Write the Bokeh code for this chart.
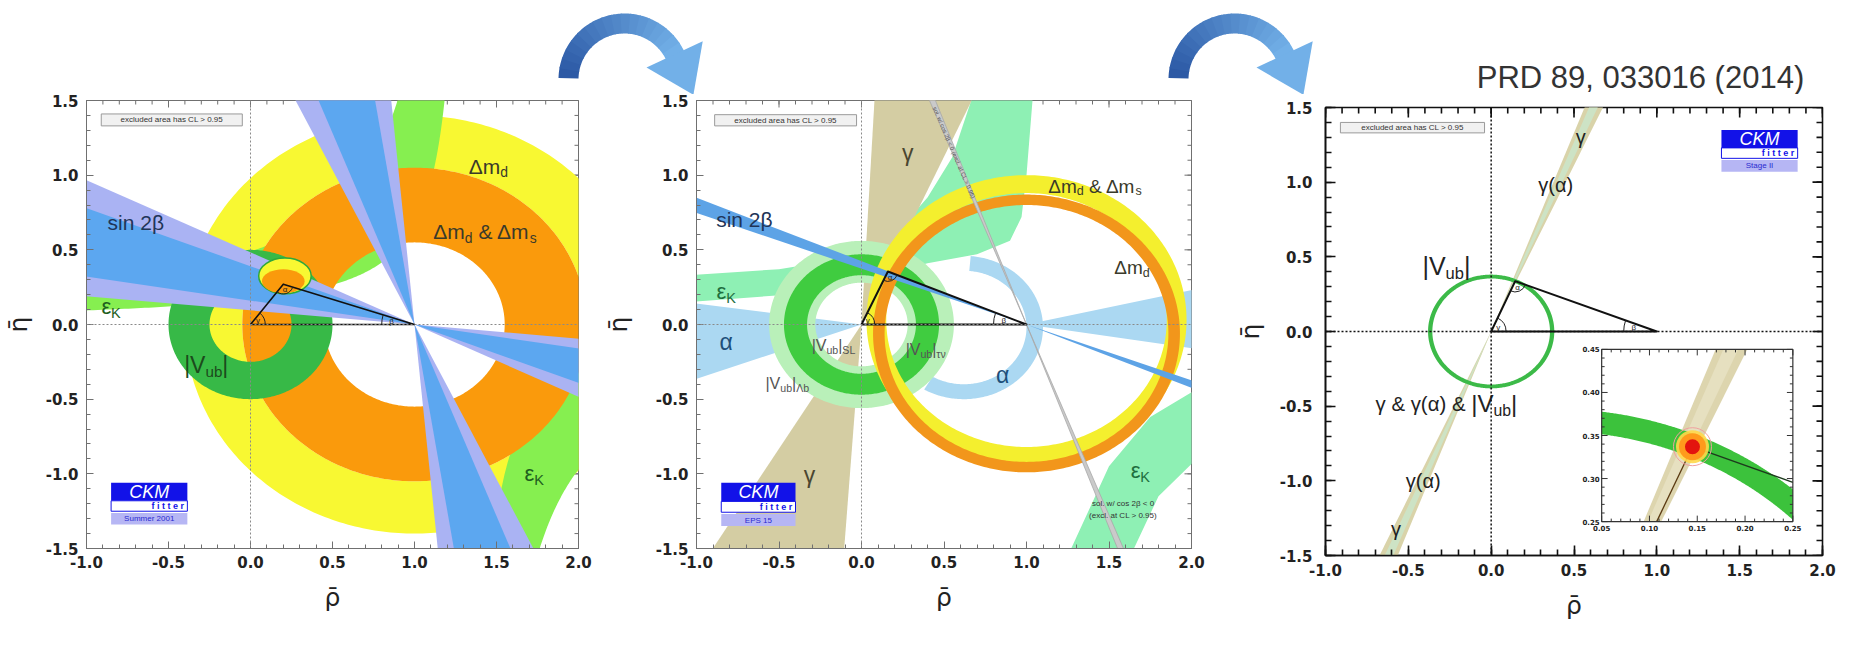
import numpy as np
from bokeh.plotting import figure
from bokeh.layouts import column, row
from bokeh.models import Range1d, FixedTicker, Span, PrintfTickFormatter
from bokeh.core.properties import value
from bokeh.embed import file_html
from bokeh.resources import INLINE

# ------------------------------------------------------------------ data
X_TICKS = [-1.0, -0.5, 0.0, 0.5, 1.0, 1.5, 2.0]
Y_TICKS = [-1.5, -1.0, -0.5, 0.0, 0.5, 1.0, 1.5]
X_MINOR = [round(v, 2) for v in np.arange(-1.0, 2.001, 0.1)]
Y_MINOR = [round(v, 2) for v in np.arange(-1.5, 1.501, 0.1)]
X_LABEL = "\u03c1\u0304"   # rho-bar
Y_LABEL = "\u03b7\u0304"   # eta-bar
TITLE = "PRD 89, 033016 (2014)"

# panel 1 : CKMfitter Summer 2001   (centre x, centre y, r_in, r_out)
P1_APEX = [0.20, 0.27]
P1_DMD = [1.0, 0.0, 1.05, 1.40]
P1_DMDS = [1.0, 0.0, 0.55, 1.05]
P1_VUB = [0.0, 0.0, 0.25, 0.50]
P1_EPSK = [1.33, 0.22, 0.65]          # hyperbola: asymptote, k_low, k_high
P1_BETA_95 = [5.4, 25.8]              # beta range, degrees
P1_BETA_68 = [9.1, 21.3]
P1_FIT_95 = [0.21, 0.325, 0.16, 0.12]  # ellipse cx, cy, rx, ry
P1_FIT_68 = [0.20, 0.29, 0.13, 0.08]

# panel 2 : CKMfitter EPS 15
P2_APEX = [0.16, 0.355]
P2_DMD = [1.0, 0.03, 0.85, 0.97]
P2_DMDS = [1.0, -0.06, 0.86, 0.93]
P2_VUB_ALL = [0.0, 0.0, 0.28, 0.56]
P2_VUB = [0.0, 0.0, 0.33, 0.47]
# eps_K band edges (rho, eta)
P2_EPSK_UP_OUT_RHO = [-1.05, -0.5, 0.0, 0.2, 0.4, 0.55, 0.68]
P2_EPSK_UP_OUT_ETA = [0.33, 0.37, 0.46, 0.60, 0.85, 1.12, 1.55]
P2_EPSK_UP_IN_RHO = [-1.05, -0.45, 0.0, 0.4, 0.7, 0.9, 0.97, 1.0, 1.04]
P2_EPSK_UP_IN_ETA = [0.15, 0.20, 0.29, 0.41, 0.47, 0.56, 0.72, 1.0, 1.55]
P2_EPSK_DN_IN_RHO = [1.25, 1.5, 1.75, 2.05]
P2_EPSK_DN_IN_ETA = [-1.55, -0.95, -0.62, -0.42]
P2_EPSK_DN_OUT_RHO = [1.63, 1.8, 2.05]
P2_EPSK_DN_OUT_ETA = [-1.55, -1.15, -0.88]
P2_BETA = [20.5, 23.0]
P2_BETA_ALT = [68.6, 69.8]
P2_GAMMA_UP = [66.0, 87.0]
P2_GAMMA_DN = [59.0, 86.0]
P2_ALPHA_ARC = [0.62, -0.02, 0.38, 0.48, -120.0, 85.0]
P2_ALPHA_LEFT = [-8.0, 20.0]
P2_ALPHA_RIGHT = [-9.0, 13.0]

# panel 3 : Stage II
P3_APEX = [0.145, 0.337]
P3_VUB = [0.0, 0.0, 0.355, 0.381]
P3_GAMMA = [65.8, 69.4]
P3_GAMMA_ALPHA = [66.8, 68.5]
INSET_X = [0.05, 0.25]
INSET_Y = [0.25, 0.45]
INSET_X_TICKS = [0.05, 0.10, 0.15, 0.20, 0.25]
INSET_Y_TICKS = [0.25, 0.30, 0.35, 0.40, 0.45]

# ------------------------------------------------------------------ helpers
FONT = "Liberation Sans"
CW = {'m': .833, 'i': .222, 'l': .222, '|': .26, ' ': .278, 'r': .333, 't': .278, 'f': .278,
      '&': .667, '\u0394': .668, 'V': .667, '\u03b5': .44, '\u03b3': .5, '\u03b1': .58, '\u03b2': .57,
      'K': .667, '(': .333, ')': .333, 'S': .667, 'L': .556, '\u03c4': .42, '\u03bd': .5, 's': .5,
      '\u039b': .667, '.': .278, '<': .584, '>': .584, '/': .278, 'w': .722, 'C': .722}


def tw(s, size):
    return sum(CW.get(c, 0.556) for c in s) * size


def rich(p, x, y, runs, size, color, style="normal"):
    parts = []
    for r in runs:
        t, k = r[0], r[1]
        sc = r[2] if len(r) > 2 else 1.0
        s = size * sc * (0.66 if k == "sub" else 1.0)
        parts.append((t, k, s, tw(t, s), size * sc))
    total = sum(q[3] for q in parts)
    cur = -total / 2.0
    for t, k, s, w, base in parts:
        dy = 0.27 * base if k == "sub" else 0.0
        lead = len(t) - len(t.lstrip(" "))
        shown = t.strip(" ")
        p.text(x=[x], y=[y], text=[shown], x_offset=cur + lead * 0.278 * s, y_offset=dy,
               text_font=value(FONT), text_font_size=f"{s:.1f}px", text_color=color,
               text_align="left", text_baseline="middle", text_font_style=style)
        cur += w


def ring_xy(c, n=361):
    cx, cy, r1, r2 = c
    t = np.linspace(0, 2 * np.pi, n)
    return (list(cx + r2 * np.cos(t)), list(cy + r2 * np.sin(t)),
            list(cx + r1 * np.cos(t[::-1])), list(cy + r1 * np.sin(t[::-1])))


def draw_ring(p, c, color, alpha=1.0):
    ox, oy, ix, iy = ring_xy(c)
    p.multi_polygons(xs=[[[ox, ix]]], ys=[[[oy, iy]]], fill_color=color, fill_alpha=alpha,
                     line_color=None)


def cone(px, py, a1, a2, L=8.0):
    a1, a2 = np.radians(a1), np.radians(a2)
    return ([px, px + L * np.cos(a1), px + L * np.cos(a2)],
            [py, py + L * np.sin(a1), py + L * np.sin(a2)])


def hyper_band(x0, k1, k2):
    out = []
    e2 = np.geomspace(k2 / (x0 + 1.6), 3.0, 300)
    e1 = np.geomspace(k1 / (x0 + 1.6), 3.0, 300)[::-1]
    out.append((list(x0 - k2 / e2) + list(x0 - k1 / e1), list(e2) + list(e1)))
    a2 = np.geomspace(k2 / (2.6 - x0), 3.0, 300)
    a1 = np.geomspace(k1 / (2.6 - x0), 3.0, 300)[::-1]
    out.append((list(x0 + k2 / a2) + list(x0 + k1 / a1), list(-a2) + list(-a1)))
    return out


def edge_band(rx_a, ry_a, rx_b, ry_b):
    return list(rx_a) + list(rx_b[::-1]), list(ry_a) + list(ry_b[::-1])


def arc_band(c, n=200):
    cx, cy, r1, r2, a1, a2 = c
    t = np.radians(np.linspace(a1, a2, n))
    return (list(cx + r2 * np.cos(t)) + list(cx + r1 * np.cos(t[::-1])),
            list(cy + r2 * np.sin(t)) + list(cy + r1 * np.sin(t[::-1])))


def clip_poly(xs, ys, xmin, xmax, ymin, ymax):
    pts = list(zip(xs, ys))

    def clip(pts, inside, inter):
        out = []
        if not pts:
            return out
        prev = pts[-1]
        for cur in pts:
            if inside(cur):
                if not inside(prev):
                    out.append(inter(prev, cur))
                out.append(cur)
            elif inside(prev):
                out.append(inter(prev, cur))
            prev = cur
        return out

    def ix(x0):
        return lambda a, b: (x0, a[1] + (b[1] - a[1]) * (x0 - a[0]) / (b[0] - a[0]))

    def iy(y0):
        return lambda a, b: (a[0] + (b[0] - a[0]) * (y0 - a[1]) / (b[1] - a[1]), y0)

    pts = clip(pts, lambda q: q[0] >= xmin, ix(xmin))
    pts = clip(pts, lambda q: q[0] <= xmax, ix(xmax))
    pts = clip(pts, lambda q: q[1] >= ymin, iy(ymin))
    pts = clip(pts, lambda q: q[1] <= ymax, iy(ymax))
    return [q[0] for q in pts], [q[1] for q in pts]


def clip_seg(x0, y0, x1, y1, xmin, xmax, ymin, ymax):
    t0, t1 = 0.0, 1.0
    dx, dy = x1 - x0, y1 - y0
    for pp, qq in ((-dx, x0 - xmin), (dx, xmax - x0), (-dy, y0 - ymin), (dy, ymax - y0)):
        if pp == 0:
            if qq < 0:
                return None
        else:
            r = qq / pp
            if pp < 0:
                t0 = max(t0, r)
            else:
                t1 = min(t1, r)
    if t0 > t1:
        return None
    return x0 + t0 * dx, y0 + t0 * dy, x0 + t1 * dx, y0 + t1 * dy


def no_align(p):
    try:
        p.frame_align = False
    except Exception:
        pass


PANEL_H = 554


def make_panel(width, mbl, mbr, mbt, mbb):
    p = figure(width=width, height=PANEL_H, x_range=Range1d(-1.0, 2.0), y_range=Range1d(-1.5, 1.5),
               toolbar_location=None, output_backend="svg", min_border_left=mbl,
               min_border_right=mbr, min_border_top=mbt, min_border_bottom=mbb,
               background_fill_color="white", border_fill_color="white")
    p.grid.visible = False
    no_align(p)
    return p


def style_panel(p, color, lw, maj, mnr, x_std, y_std, xl_std, yl_std):
    xt = FixedTicker(ticks=X_TICKS, minor_ticks=X_MINOR)
    yt = FixedTicker(ticks=Y_TICKS, minor_ticks=Y_MINOR)
    common = dict(axis_line_color=color, axis_line_width=lw, major_tick_line_color=color,
                  major_tick_line_width=lw, minor_tick_line_color=color, minor_tick_line_width=lw,
                  major_tick_in=maj, major_tick_out=0, minor_tick_in=mnr, minor_tick_out=0)
    lab = dict(major_label_text_font="DejaVu Sans", major_label_text_font_style="bold",
               major_label_text_font_size="15px", major_label_text_color="#222222",
               axis_label_text_font="DejaVu Sans", axis_label_text_font_size="25px",
               axis_label_text_font_style="normal", axis_label_text_color="#222222")
    xa, ya = p.xaxis[0], p.yaxis[0]
    xa.update(ticker=xt, formatter=PrintfTickFormatter(format="%.1f"), major_label_standoff=x_std,
              axis_label=X_LABEL, axis_label_standoff=xl_std, **common, **lab)
    ya.update(ticker=yt, formatter=PrintfTickFormatter(format="%.1f"), major_label_standoff=y_std,
              axis_label=Y_LABEL, axis_label_standoff=yl_std, **common, **lab)
    p.outline_line_color = color
    p.outline_line_width = lw
    # mirrored ticks on the top and right edges (inner half of a centred dash)
    for ticks, L in ((X_TICKS, maj), (X_MINOR, mnr)):
        p.scatter(x=ticks, y=[1.5] * len(ticks), marker="dash", size=2 * L, angle=np.pi / 2,
                  line_color=color, line_width=lw)
    for ticks, L in ((Y_TICKS, maj), (Y_MINOR, mnr)):
        p.scatter(x=[2.0] * len(ticks), y=ticks, marker="dash", size=2 * L, angle=0,
                  line_color=color, line_width=lw)


def cross_lines(p, color, dash, lw):
    p.add_layout(Span(location=0, dimension="height", line_color=color, line_dash=dash, line_width=lw))
    p.add_layout(Span(location=0, dimension="width", line_color=color, line_dash=dash, line_width=lw))


def triangle(p, apex, lw, ppux, ppuy, rg, rb, ra, fs):
    ax, ay = apex
    p.line(x=[0, ax, 1, 0], y=[0, ay, 0, 0], line_color="#111111", line_width=lw, line_join="round")

    def sang(dx, dy):
        return float(np.arctan2(dy * ppuy, dx * ppux))

    g1 = sang(ax, ay)
    p.arc(x=[0], y=[0], radius=rg, start_angle=0, end_angle=g1, line_color="#222222", line_width=1)
    b0 = sang(ax - 1, ay)
    p.arc(x=[1], y=[0], radius=rb, start_angle=b0, end_angle=np.pi, line_color="#222222", line_width=1)
    a0 = sang(-ax, -ay) % (2 * np.pi)
    a1 = sang(1 - ax, -ay) % (2 * np.pi)
    p.arc(x=[ax], y=[ay], radius=ra, start_angle=a0, end_angle=a1, line_color="#222222", line_width=1)
    for (px, py, r, ang, t) in ((0, 0, rg * 0.55, g1 / 2, "\u03b3"),
                                (1, 0, rb * 0.7, (b0 + np.pi) / 2, "\u03b2"),
                                (ax, ay, ra * 0.6, (a0 + a1) / 2, "\u03b1")):
        p.text(x=[px], y=[py], text=[t], x_offset=r * ppux * np.cos(ang),
               y_offset=-r * ppux * np.sin(ang), text_font=value(FONT), text_font_size=f"{fs}px",
               text_color="#222222", text_align="center", text_baseline="middle")


def excl_box(p, x0, x1, y0, y1):
    p.quad(left=[x0], right=[x1], bottom=[y0], top=[y1], fill_color="#f1f1f1",
           line_color="#9a9a9a", line_width=1)
    p.text(x=[(x0 + x1) / 2], y=[(y0 + y1) / 2], text=["excluded area has CL > 0.95"],
           text_font=value(FONT), text_font_size="8px", text_color="#333333",
           text_align="center", text_baseline="middle")


def logo(p, x0, x1, y0, y1, caption):
    h = y1 - y0
    p.quad(left=[x0], right=[x1], bottom=[y1 - 0.43 * h], top=[y1], fill_color="#1212e8", line_color=None)
    p.text(x=[(x0 + x1) / 2], y=[y1 - 0.215 * h], text=["CKM"], text_font=value(FONT),
           text_font_style="italic", text_font_size="18px", text_color="white",
           text_align="center", text_baseline="middle")
    p.quad(left=[x0], right=[x1], bottom=[y1 - 0.68 * h], top=[y1 - 0.43 * h], fill_color="white",
           line_color="#1212e8", line_width=1)
    p.text(x=[x1 - 0.02], y=[y1 - 0.555 * h], text=["f i t t e r"], text_font=value(FONT),
           text_font_style="bold", text_font_size="9px", text_color="#1212e8",
           text_align="right", text_baseline="middle")
    p.quad(left=[x0], right=[x1], bottom=[y0], top=[y1 - 0.72 * h], fill_color="#b6b6f4", line_color=None)
    p.text(x=[(x0 + x1) / 2], y=[y0 + 0.14 * h], text=[caption], text_font=value(FONT),
           text_font_size="8px", text_color="#2a2ad0", text_align="center", text_baseline="middle")


# ------------------------------------------------------------------ top strip (arrows + title)
STRIP_H = 648 - PANEL_H
strip = figure(width=1840, height=STRIP_H, x_range=Range1d(8, 1848), y_range=Range1d(8 + STRIP_H, 8),
               toolbar_location=None, output_backend="svg", min_border=0,
               x_axis_location=None, y_axis_location=None, outline_line_color=None,
               background_fill_color="white", border_fill_color="white")
strip.grid.visible = False
no_align(strip)


def mix(c0, c1, f):
    a = [int(c0[i:i + 2], 16) for i in (1, 3, 5)]
    b = [int(c1[i:i + 2], 16) for i in (1, 3, 5)]
    return "#%02x%02x%02x" % tuple(int(round(a[k] + (b[k] - a[k]) * f)) for k in range(3))


def arrow(p, cx, cy, R, r, a_s, a_e, hl, hh, c0, c1, nseg=18):
    ts = np.linspace(a_s, a_e, nseg + 1)
    xs, ys, cols = [], [], []
    for i in range(nseg):
        t = np.radians(np.linspace(ts[i] + 0.6, ts[i + 1] - 0.6, 8))
        xs.append(list(cx + R * np.cos(t)) + list(cx + r * np.cos(t[::-1])))
        ys.append(list(cy - R * np.sin(t)) + list(cy - r * np.sin(t[::-1])))
        cols.append(mix(c0, c1, i / (nseg - 1)))
    te = np.radians(a_e)
    rm = (R + r) / 2
    mx, my = cx + rm * np.cos(te), cy - rm * np.sin(te)
    tx, ty = np.sin(te), np.cos(te)
    nx, ny = np.cos(te), -np.sin(te)
    xs.append([mx + hh * nx - 1.5 * tx, mx + hl * tx, mx - hh * nx - 1.5 * tx])
    ys.append([my + hh * ny - 1.5 * ty, my + hl * ty, my - hh * ny - 1.5 * ty])
    cols.append(c1)
    p.patches(xs, ys, fill_color=cols, line_color=None)


for cx in (632, 1242):
    arrow(strip, cx, 87, 66, 46, 178, 25, 43, 31, "#2c59a5", "#72b0e8")
strip.text(x=[1648], y=[85], text=[TITLE], text_font=value(FONT), text_font_size="31px",
           text_color="#333333", text_align="center", text_baseline="middle")

# ------------------------------------------------------------------ panel 1
p1 = make_panel(600, 82, 22, 6, 100)
style_panel(p1, "#707070", 1, 7, 4, 7, 8, 12, 10)
draw_ring(p1, P1_DMD, "#f8f832")
for xs, ys in hyper_band(*P1_EPSK):
    p1.patch(xs, ys, fill_color="#86ef50", line_color=None)
draw_ring(p1, P1_DMDS, "#fa9a0c")
draw_ring(p1, P1_VUB, "#37b947")
for rng, col in ((P1_BETA_95, "#aab3f3"), (P1_BETA_68, "#5ca7f0")):
    b1, b2 = rng
    polys = [cone(1, 0, 180 - b2, 180 - b1), cone(1, 0, 360 - b2, 360 - b1),
             cone(1, 0, 90 + b1, 90 + b2), cone(1, 0, 270 + b1, 270 + b2)]
    p1.patches([q[0] for q in polys], [q[1] for q in polys], fill_color=col, line_color=None)
p1.ellipse(x=[P1_FIT_95[0]], y=[P1_FIT_95[1]], width=[2 * P1_FIT_95[2]], height=[2 * P1_FIT_95[3]],
           fill_color="#f8f832", line_color="#2ea83c", line_width=1.5)
p1.ellipse(x=[P1_FIT_68[0]], y=[P1_FIT_68[1]], width=[2 * P1_FIT_68[2]], height=[2 * P1_FIT_68[3]],
           fill_color="#fa9a0c", line_color=None)
cross_lines(p1, "#8a8a8a", "2 2", 1)
triangle(p1, P1_APEX, 1.6, 496 / 3, 448 / 3, 0.09, 0.2, 0.06, 8)
rich(p1, -0.70, 0.685, [("sin 2\u03b2", "n")], 21, "#1f3558")
rich(p1, -0.85, 0.12, [("\u03b5", "n"), ("K", "sub")], 22, "#1e5e1e")
rich(p1, -0.27, -0.27, [("|V", "n"), ("ub", "sub"), ("|", "n")], 23, "#1c4a1c")
rich(p1, 1.45, 1.06, [("\u0394m", "n"), ("d", "sub")], 21, "#3a3a2a")
rich(p1, 1.43, 0.62, [("\u0394m", "n"), ("d", "sub"), (" & \u0394m", "n"), ("s", "sub")], 21, "#3a3a2a")
rich(p1, 1.73, -1.0, [("\u03b5", "n"), ("K", "sub")], 22, "#1e5e1e")
excl_box(p1, -0.91, -0.05, 1.33, 1.41)
logo(p1, -0.85, -0.385, -1.34, -1.06, "Summer 2001")

# ------------------------------------------------------------------ panel 2
p2 = make_panel(632, 94, 41, 6, 100)
style_panel(p2, "#707070", 1, 7, 4, 7, 8, 12, 20)
e_up = edge_band(P2_EPSK_UP_OUT_RHO, P2_EPSK_UP_OUT_ETA, P2_EPSK_UP_IN_RHO, P2_EPSK_UP_IN_ETA)
e_dn = edge_band(P2_EPSK_DN_IN_RHO, P2_EPSK_DN_IN_ETA, P2_EPSK_DN_OUT_RHO, P2_EPSK_DN_OUT_ETA)
p2.patches([e_up[0], e_dn[0]], [e_up[1], e_dn[1]], fill_color="#8ef0b4", line_color=None)
g_up = cone(0, 0, *P2_GAMMA_UP)
g_dn = cone(0, 0, 180 + P2_GAMMA_DN[0], 180 + P2_GAMMA_DN[1])
p2.patches([g_up[0], g_dn[0]], [g_up[1], g_dn[1]], fill_color="#d4cda3", line_color=None)
a_arc = arc_band(P2_ALPHA_ARC)
a_l = cone(0, 0, 180 + P2_ALPHA_LEFT[0], 180 + P2_ALPHA_LEFT[1])
a_r = cone(1, 0, *P2_ALPHA_RIGHT)
p2.patches([a_arc[0], a_l[0], a_r[0]], [a_arc[1], a_l[1], a_r[1]], fill_color="#abd8f2", line_color=None)
draw_ring(p2, P2_VUB_ALL, "#b9f0b9")
draw_ring(p2, P2_VUB, "#40cc40")
draw_ring(p2, P2_DMD, "#f4ef2e")
draw_ring(p2, P2_DMDS, "#f2961b")
b_a = cone(1, 0, 180 - P2_BETA[1], 180 - P2_BETA[0])
b_b = cone(1, 0, 360 - P2_BETA[1], 360 - P2_BETA[0])
p2.patches([b_a[0], b_b[0]], [b_a[1], b_b[1]], fill_color="#5da3e6", line_color=None)
c_a = cone(1, 0, 180 - P2_BETA_ALT[1], 180 - P2_BETA_ALT[0])
c_b = cone(1, 0, 360 - P2_BETA_ALT[1], 360 - P2_BETA_ALT[0])
p2.patches([c_a[0], c_b[0]], [c_a[1], c_b[1]], fill_color="#cacaca", line_color="#a8a8a8",
           line_width=0.8)
cross_lines(p2, "#8a8a8a", "2 2", 1)
triangle(p2, P2_APEX, 2.0, 497 / 3, 448 / 3, 0.08, 0.2, 0.06, 8)
rich(p2, 0.28, 1.15, [("\u03b3", "n")], 23, "#4a4630")
rich(p2, -0.315, -1.01, [("\u03b3", "n")], 23, "#4a4630")
rich(p2, -0.71, 0.70, [("sin 2\u03b2", "n")], 21, "#1f3558")
rich(p2, -0.82, 0.22, [("\u03b5", "n"), ("K", "sub")], 22, "#1e6e3e")
rich(p2, -0.82, -0.12, [("\u03b1", "n")], 23, "#1d4f7a")
rich(p2, 0.855, -0.34, [("\u03b1", "n")], 23, "#1d4f7a")
rich(p2, 1.415, 0.925, [("\u0394m", "n"), ("d", "sub"), (" & \u0394m", "n"), ("s", "sub")], 19, "#3a3a2a")
rich(p2, 1.64, 0.38, [("\u0394m", "n"), ("d", "sub")], 19, "#3a3a2a")
rich(p2, 1.69, -0.98, [("\u03b5", "n"), ("K", "sub")], 22, "#1e6e3e")
rich(p2, -0.17, -0.14, [("|V", "n"), ("ub", "sub"), ("|", "n"), ("SL", "sub")], 16, "#555555")
rich(p2, 0.39, -0.17, [("|V", "n"), ("ub", "sub"), ("|", "n"), ("\u03c4\u03bd", "sub")], 16, "#555555")
rich(p2, -0.45, -0.395, [("|V", "n"), ("ub", "sub"), ("|", "n"), ("\u039bb", "sub")], 16, "#555555")
p2.text(x=[1.585, 1.585], y=[-1.2, -1.28],
        text=["sol. w/ cos 2\u03b2 < 0", "(excl. at CL > 0.95)"], text_font=value(FONT),
        text_font_size="8px", text_color="#333333", text_align="center", text_baseline="middle")
p2.text(x=[0.56], y=[1.15], text=["sol. w/ cos 2\u03b2 < 0 (excl. at CL > 0.95)"],
        angle=np.radians(-66.9), text_font=value(FONT), text_font_size="6px",
        text_color="#555555", text_align="center", text_baseline="middle")
excl_box(p2, -0.89, -0.03, 1.33, 1.405)
logo(p2, -0.85, -0.40, -1.35, -1.06, "EPS 15")

# ------------------------------------------------------------------ panel 3
p3 = make_panel(608, 88, 18, 13, 93)
style_panel(p3, "#111111", 1.6, 10, 6, 8, 13, 12, 12)
g_up = cone(0, 0, *P3_GAMMA)
g_dn = cone(0, 0, 180 + P3_GAMMA[0], 180 + P3_GAMMA[1])
p3.patches([g_up[0], g_dn[0]], [g_up[1], g_dn[1]], fill_color="#d9d3a9", line_color=None)
ga_up = cone(0, 0, *P3_GAMMA_ALPHA)
ga_dn = cone(0, 0, 180 + P3_GAMMA_ALPHA[0], 180 + P3_GAMMA_ALPHA[1])
p3.patches([ga_up[0], ga_dn[0]], [ga_up[1], ga_dn[1]], fill_color="#cde3c5", line_color=None)
draw_ring(p3, P3_VUB, "#3cba48")
cross_lines(p3, "#111111", "2 2", 1.5)
triangle(p3, P3_APEX, 2.0, 502 / 3, 448 / 3, 0.09, 0.2, 0.065, 8)
rich(p3, 0.54, 1.30, [("\u03b3", "n")], 20, "#222222")
rich(p3, 0.39, 0.98, [("\u03b3(\u03b1)", "n")], 20, "#222222")
rich(p3, -0.27, 0.44, [("|V", "n"), ("ub", "sub"), ("|", "n")], 25, "#222222")
rich(p3, -0.27, -0.485, [("\u03b3 & \u03b3(\u03b1) & ", "n", 0.85), ("|V", "n"), ("ub", "sub"), ("|", "n")],
     24, "#222222")
rich(p3, -0.41, -1.0, [("\u03b3(\u03b1)", "n")], 20, "#222222")
rich(p3, -0.575, -1.32, [("\u03b3", "n")], 20, "#222222")
excl_box(p3, -0.91, -0.04, 1.33, 1.40)
logo(p3, 1.39, 1.85, 1.07, 1.35, "Stage II")

# inset (zoom on the apex) drawn through a sub-coordinate mapping
ins = p3.subplot(x_source=Range1d(*INSET_X), y_source=Range1d(*INSET_Y),
                 x_target=Range1d(0.667, 1.821), y_target=Range1d(-1.273, -0.12))
bx = (INSET_X[0], INSET_X[1], INSET_Y[0], INSET_Y[1])
ins.quad(left=[bx[0]], right=[bx[1]], bottom=[bx[2]], top=[bx[3]], fill_color="white", line_color=None)
gx, gy = clip_poly(*cone(0, 0, *P3_GAMMA, L=1.0), *bx)
ins.patch(gx, gy, fill_color="#ddd5ae", line_color=None)
gx, gy = clip_poly(*cone(0, 0, *P3_GAMMA_ALPHA, L=1.0), *bx)
ins.patch(gx, gy, fill_color="#e6e0c0", line_color=None)
vx, vy = clip_poly(*arc_band([P3_VUB[0], P3_VUB[1], P3_VUB[2], P3_VUB[3], 15.0, 90.0], 400), *bx)
ins.patch(vx, vy, fill_color="#3cc23c", line_color=None)
s1 = clip_seg(P3_APEX[0], P3_APEX[1], 1.0, 0.0, *bx)
s2 = clip_seg(P3_APEX[0], P3_APEX[1], 0.0, 0.0, *bx)
ins.segment(x0=[s1[0]], y0=[s1[1]], x1=[s1[2]], y1=[s1[3]], line_color="#1d3b1d", line_width=1.3)
ins.segment(x0=[s2[0]], y0=[s2[1]], x1=[s2[2]], y1=[s2[3]], line_color="#5a3a12", line_width=1.3)
ins.scatter(x=[P3_APEX[0]], y=[P3_APEX[1]], size=38, fill_color=None, line_color="#f0a0a0", line_width=1)
ins.scatter(x=[P3_APEX[0]], y=[P3_APEX[1]], size=33, fill_color="#ffd84a", line_color=None, fill_alpha=0.9)
ins.scatter(x=[P3_APEX[0]], y=[P3_APEX[1]], size=27, fill_color="#ff9a1c", line_color=None)
ins.scatter(x=[P3_APEX[0]], y=[P3_APEX[1]], size=15, fill_color="#e3140e", line_color=None)
ins.quad(left=[bx[0]], right=[bx[1]], bottom=[bx[2]], top=[bx[3]], fill_color=None,
         line_color="#333333", line_width=1.2)
minor_x = [round(v, 3) for v in np.arange(INSET_X[0], INSET_X[1] + 1e-9, 0.01)]
minor_y = [round(v, 3) for v in np.arange(INSET_Y[0], INSET_Y[1] + 1e-9, 0.01)]
lx, ly = 0.2 / 193.0, 0.2 / 173.0
sx0, sy0, sx1, sy1 = [], [], [], []
for v in minor_x:
    L = 6 if v in INSET_X_TICKS else 3
    sx0 += [v, v]; sx1 += [v, v]
    sy0 += [bx[2], bx[3]]; sy1 += [bx[2] + L * ly, bx[3] - L * ly]
for v in minor_y:
    L = 6 if v in INSET_Y_TICKS else 3
    sy0 += [v, v]; sy1 += [v, v]
    sx0 += [bx[0], bx[1]]; sx1 += [bx[0] + L * lx, bx[1] - L * lx]
ins.segment(x0=sx0, y0=sy0, x1=sx1, y1=sy1, line_color="#333333", line_width=1)
ins.text(x=INSET_X_TICKS, y=[bx[2]] * len(INSET_X_TICKS), text=["%.2f" % v for v in INSET_X_TICKS],
         y_offset=3, text_font=value("DejaVu Sans"), text_font_style="bold", text_font_size="7px",
         text_color="#222222", text_align="center", text_baseline="top")
ins.text(x=[bx[0]] * len(INSET_Y_TICKS), y=INSET_Y_TICKS, text=["%.2f" % v for v in INSET_Y_TICKS],
         x_offset=-2, text_font=value("DejaVu Sans"), text_font_style="bold", text_font_size="7px",
         text_color="#222222", text_align="right", text_baseline="middle")

prow = row(p1, p2, p3, spacing=0)
layout = column(strip, prow, spacing=0)
open("out.html", "w").write(file_html(layout, INLINE))
